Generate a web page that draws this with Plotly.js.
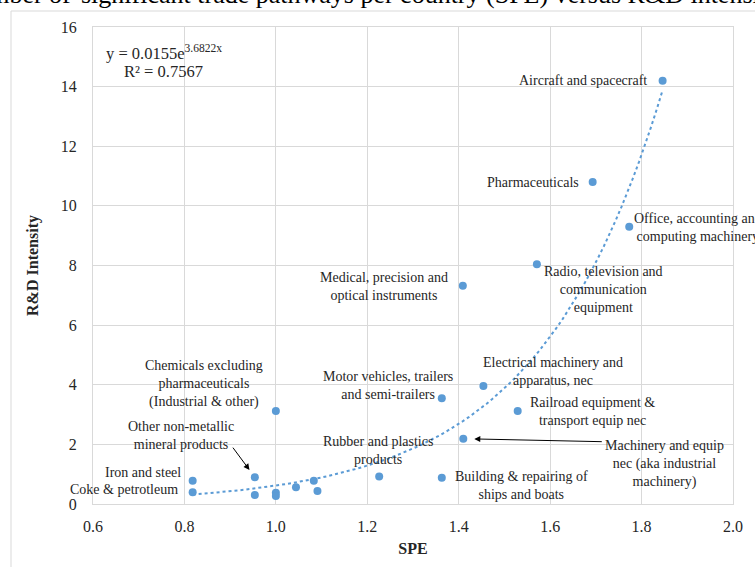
<!DOCTYPE html>
<html>
<head>
<meta charset="utf-8">
<script src="https://cdn.plot.ly/plotly-3.0.1.min.js"></script>
<style>html,body{margin:0;padding:0;background:#fff;}#chart{width:755px;height:567px;}</style>
</head>
<body>
<div id="chart"></div>
<script>
// ---- Data ----
const sectors = [
  "Aircraft and spacecraft",
  "Pharmaceuticals",
  "Office, accounting and<br>computing machinery",
  "Radio, television and<br>communication<br>equipment",
  "Medical, precision and<br>optical instruments",
  "Electrical machinery and<br>apparatus, nec",
  "Motor vehicles, trailers<br>and semi-trailers",
  "Railroad equipment &<br>transport equip nec",
  "Machinery and equip<br>nec (aka industrial<br>machinery)",
  "Building & repairing of<br>ships and boats",
  "Rubber and plastics<br>products",
  "Chemicals excluding<br>pharmaceuticals<br>(Industrial & other)",
  "Other non-metallic<br>mineral products",
  "Iron and steel",
  "Coke & petrotleum",
  "", "", "", "", "", ""
];
const spe = [1.846, 1.693, 1.773, 1.571, 1.409, 1.454, 1.363, 1.529, 1.410, 1.363, 1.226,
             1.000, 0.954, 0.818, 0.818, 0.954, 1.000, 1.000, 1.044, 1.083, 1.091];
const rdIntensity = [14.20, 10.80, 9.30, 8.04, 7.32, 3.96, 3.55, 3.12, 2.19, 0.88, 0.92,
                     3.12, 0.90, 0.78, 0.39, 0.30, 0.38, 0.27, 0.56, 0.78, 0.44];
const xTickVals = [0.6, 0.8, 1.0, 1.2, 1.4, 1.6, 1.8, 2.0];
const xTickText = ["0.6", "0.8", "1.0", "1.2", "1.4", "1.6", "1.8", "2.0"];
const yTickVals = [0, 2, 4, 6, 8, 10, 12, 14, 16];
const yTickText = ["0", "2", "4", "6", "8", "10", "12", "14", "16"];
// Exponential trendline shown on the chart: y = a * e^(b x)
const trendA = 0.0155;
const trendB = 3.6822;
const rSquared = 0.7567;
const captionLeft = "Figure 5. Number of";
const captionRight = "significant trade pathways per country (SPE) versus R&D intensity";

// ---- Label placement (pixel offsets from each point) ----
const labelPlacement = [
  {xa: "right", dx: -14, dy: 0},
  {xa: "right", dx: -12, dy: 0},
  {xa: "left", dx: 3, dy: -1},
  {xa: "center", dx: 67, dy: -25},
  {xa: "right", dx: -13, dy: -1},
  {xa: "center", dx: 70, dy: 14},
  {xa: "right", dx: 13, dy: 13},
  {xa: "center", dx: 75, dy: -1},
  {xa: "center", dx: 201, dy: -25},
  {xa: "left", dx: 11, dy: -8},
  {xa: "center", dx: -1, dy: 26},
  {xa: "right", dx: -11, dy: 27},
  {xa: "center", dx: -74, dy: 42},
  {xa: "right", dx: -10, dy: 8},
  {xa: "right", dx: -13, dy: 3}
];

const blue = "#5b9bd5";
const serif = "Liberation Serif, Times New Roman, serif";

// trendline points from the equation printed on the chart
const xMin = Math.min(...spe), xMax = Math.max(...spe);
const trendX = [], trendY = [];
for (let i = 0; i <= 80; i++) {
  const x = xMin + (xMax - xMin) * i / 80;
  trendX.push(x);
  trendY.push(trendA * Math.exp(trendB * x));
}

const traces = [
  {x: trendX, y: trendY, type: "scatter", mode: "lines",
   line: {color: blue, width: 2, dash: "dot"}, hoverinfo: "skip", showlegend: false},
  {x: spe, y: rdIntensity, type: "scatter", mode: "markers",
   marker: {color: blue, size: 8}, text: sectors, showlegend: false}
];

const annotations = [];
sectors.forEach((s, i) => {
  if (!s || !labelPlacement[i]) return;
  const p = labelPlacement[i];
  annotations.push({
    x: spe[i], y: rdIntensity[i], xref: "x", yref: "y",
    text: s, showarrow: false, xanchor: p.xa, yanchor: "middle",
    xshift: p.dx, yshift: p.dy, align: "center",
    font: {family: serif, size: 14, color: "#262626"}
  });
});
// arrows
annotations.push({x: spe[8], y: rdIntensity[8], xref: "x", yref: "y", text: "",
  showarrow: true, arrowhead: 2, arrowsize: 1.2, arrowwidth: 1, arrowcolor: "#000",
  ax: 140, ay: 3, axref: "pixel", ayref: "pixel", standoff: 11});
annotations.push({x: spe[12], y: rdIntensity[12], xref: "x", yref: "y", text: "",
  showarrow: true, arrowhead: 2, arrowsize: 1.2, arrowwidth: 1, arrowcolor: "#000",
  ax: -23, ay: -31, axref: "pixel", ayref: "pixel", standoff: 9});
// equation
annotations.push({xref: "paper", yref: "paper", x: (164 - 93) / 640, y: (504 - 52) / 477,
  text: "y = " + trendA + "e<sup>" + trendB + "x</sup>", showarrow: false,
  xanchor: "center", yanchor: "middle", font: {family: serif, size: 16.5, color: "#262626"}});
annotations.push({xref: "paper", yref: "paper", x: (163 - 93) / 640, y: (504 - 71) / 477,
  text: "R² = " + rSquared, showarrow: false,
  xanchor: "center", yanchor: "middle", font: {family: serif, size: 16.5, color: "#262626"}});
// caption cut at the top
annotations.push({xref: "paper", yref: "paper", x: (73 - 93) / 640, y: (504 - 11) / 477,
  text: captionLeft, showarrow: false, xanchor: "right", yanchor: "bottom",
  font: {family: serif, size: 26, color: "#000"}});
annotations.push({xref: "paper", yref: "paper", x: (79 - 93) / 640, y: (504 - 11) / 477,
  text: captionRight, showarrow: false, xanchor: "left", yanchor: "bottom",
  font: {family: serif, size: 26, color: "#000"}});

const layout = {
  width: 755, height: 567,
  margin: {l: 93, r: 22, t: 27, b: 63},
  paper_bgcolor: "#fff", plot_bgcolor: "#fff",
  showlegend: false,
  xaxis: {
    range: [0.6, 2.0], tickvals: xTickVals, ticktext: xTickText,
    showgrid: true, gridcolor: "#d9d9d9", gridwidth: 1,
    showline: true, linecolor: "#d9d9d9", mirror: true, zeroline: false,
    ticks: "", ticklabelstandoff: 8,
    tickfont: {family: serif, size: 16, color: "#262626"},
    title: {text: "<b>SPE</b>", font: {family: serif, size: 16, color: "#262626"}, standoff: 8},
    automargin: false
  },
  yaxis: {
    range: [0, 16], tickvals: yTickVals, ticktext: yTickText,
    showgrid: true, gridcolor: "#d9d9d9", gridwidth: 1,
    showline: true, linecolor: "#d9d9d9", mirror: true, zeroline: false,
    ticks: "", ticklabelstandoff: 12,
    tickfont: {family: serif, size: 16, color: "#262626"},
    title: {text: "<b>R&D Intensity</b>", font: {family: serif, size: 16, color: "#262626"}, standoff: 18},
    automargin: false
  },
  shapes: [{type: "rect", xref: "paper", yref: "paper",
    x0: (11 - 93) / 640, x1: 1.3, y0: -0.3, y1: (504 - 11) / 477,
    line: {color: "#d9d9d9", width: 1}, fillcolor: "rgba(0,0,0,0)", layer: "below"}],
  annotations: annotations
};

Plotly.newPlot("chart", traces, layout, {displayModeBar: false, staticPlot: true});
</script>
</body>
</html>
